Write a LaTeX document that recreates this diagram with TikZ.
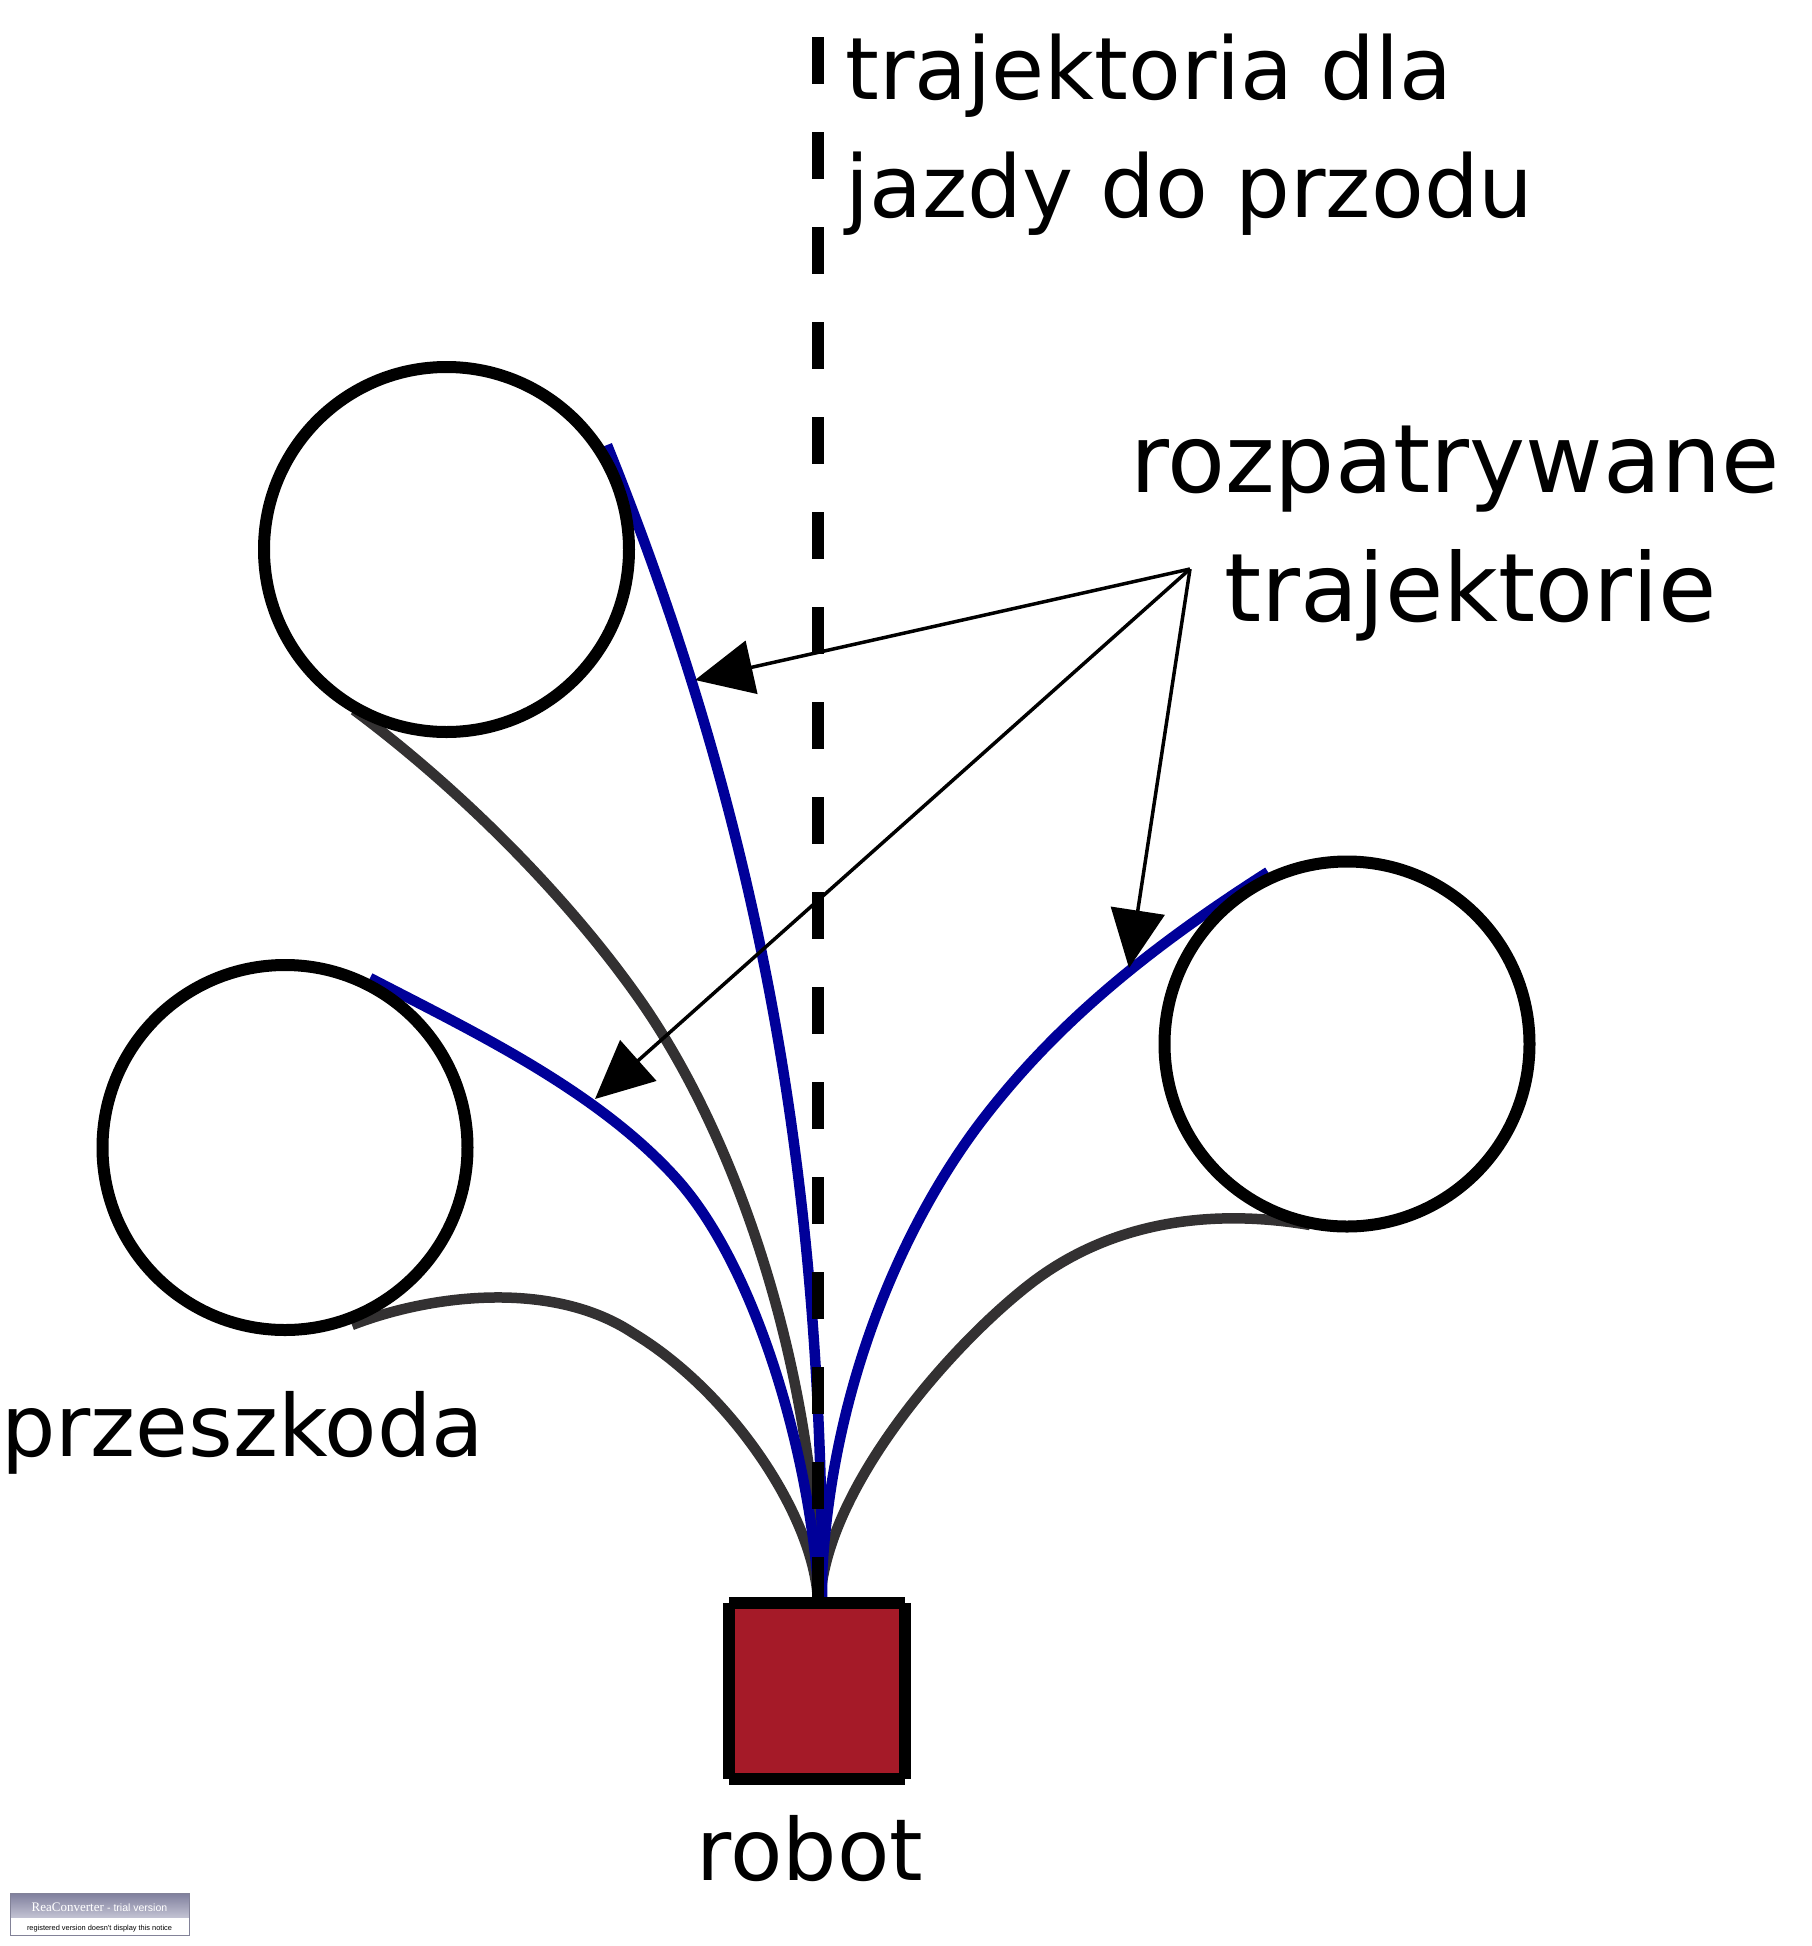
\documentclass[tikz,border=0pt]{standalone}
\usepackage{fontspec}
\setmainfont{DejaVu Sans}
\newfontfamily\wmserif{Liberation Serif}
\newfontfamily\wmsans{Liberation Sans}
\usetikzlibrary{arrows.meta}
\definecolor{trajblue}{RGB}{0,0,153}
\definecolor{trajgray}{RGB}{51,49,50}
\definecolor{robotred}{RGB}{165,26,40}
\definecolor{wmtop}{RGB}{126,126,156}
\definecolor{wmbot}{RGB}{196,196,212}
\definecolor{wmline}{RGB}{130,130,152}
\begin{document}
\begin{tikzpicture}[x=1pt,y=-1pt,
  obst/.style={circle,draw=black,line width=12pt,fill=white,minimum size=365pt,inner sep=0pt},
  forwardline/.style={draw=black,line width=12pt,dash pattern=on 47pt off 48pt},
  bluetraj/.style={draw=trajblue,line width=10.5pt},
  graytraj/.style={draw=trajgray,line width=10.5pt},
  pointer/.style={draw=black,line width=3.5pt,-{Triangle[length=58pt,width=54pt]}},
  robotbox/.style={rectangle,fill=robotred,minimum width=176pt,minimum height=176pt,inner sep=0pt},
  robotedge/.style={draw=black,line width=12pt,line cap=butt},
  lblmid/.style={font=\fontsize{86.3}{100}\selectfont,inner sep=0pt,anchor=base west},
  lblbig/.style={font=\fontsize{94.8}{110}\selectfont,inner sep=0pt,anchor=base west},
  lblsmall/.style={font=\fontsize{85.7}{100}\selectfont,inner sep=0pt}
]
\useasboundingbox (0,0) rectangle (1812,1946);
\fill[white] (0,0) rectangle (1812,1946);

% robot hub where trajectories meet
\coordinate (g1s) at (354,710);
\coordinate (g1m) at (640,1000);
\coordinate (g2s) at (352,1325);
\coordinate (g2m) at (633,1333);
\coordinate (g3s) at (1310,1225);
\coordinate (g3m) at (1030,1284);
\coordinate (b1s) at (607,445);
\coordinate (b2s) at (370,978);
\coordinate (b2m) at (675,1177);
\coordinate (b3s) at (1268,872);
\coordinate (b3m) at (980,1123);

% grey trajectories
\draw[graytraj] (g1s) .. controls (464,792) and (570,900) .. (g1m)
                      .. controls (745,1150) and (818,1390) .. (818,1603);
\draw[graytraj] (g2s) .. controls (432,1294) and (553,1280) .. (g2m)
                      .. controls (733,1393) and (816,1520) .. (818,1603);
\draw[graytraj] (g3s) .. controls (1210,1208) and (1110,1222) .. (g3m)
                      .. controls (950,1346) and (824,1490) .. (820,1603);

% blue trajectories
\draw[bluetraj] (b1s) .. controls (752,805) and (824,1160) .. (822,1603);
\draw[bluetraj] (b2s) .. controls (470,1030) and (595,1089) .. (b2m)
                      .. controls (760,1270) and (813,1470) .. (819,1603);
\draw[bluetraj] (b3s) .. controls (1138,955) and (1050,1031) .. (b3m)
                      .. controls (900,1229) and (825,1400) .. (821,1603);

% obstacles
\node[obst] (c1) at (446.5,549.5) {};
\node[obst] (c2) at (285,1147.5) {};
\node[obst] (c3) at (1347,1044) {};

% forward trajectory
\coordinate (ftop) at (818,37);
\coordinate (fbot) at (818,1603);
\draw[forwardline] (ftop) -- (fbot);

% robot
\node[robotbox] (robot) at (817,1691) {};
\draw[robotedge] (robot.north west) -- (robot.north east);
\draw[robotedge] (robot.south west) -- (robot.south east);
\draw[robotedge] (robot.north west) -- (robot.south west);
\draw[robotedge] (robot.north east) -- (robot.south east);

% pointers
\coordinate (hub) at (1190,569);
\coordinate (tip1) at (695,680);
\coordinate (tip2) at (595,1099);
\coordinate (tip3) at (1129,968);
\draw[pointer] (hub) -- (tip1);
\draw[pointer] (hub) -- (tip2);
\draw[pointer] (hub) -- (tip3);

% labels
\node[lblmid] (fw1) at (845,99) {trajektoria dla};
\node[lblmid] (fw2) at (845,217) {jazdy do przodu};
\node[lblbig] (rz1) at (1130,492) {rozpatrywane};
\node[lblbig] (rz2) at (1224.5,621) {trajektorie};
\node[lblsmall,anchor=base west] (obstlbl) at (1,1456) {przeszkoda};
\node[lblsmall,anchor=base] (robotlbl) at (810,1880) {robot};

% converter notice
\shade[top color=wmtop,bottom color=wmbot] (10,1893) rectangle (189,1918);
\fill[white] (10,1918) rectangle (189,1935);
\draw[wmline,line width=1pt] (10,1893) rectangle (189,1935);
\node[inner sep=0pt,text=white,anchor=base] (wm1) at (99.5,1911) {\wmserif\fontsize{13}{14}\selectfont ReaConverter \wmsans\fontsize{10.5}{12}\selectfont - trial version};
\node[inner sep=0pt,anchor=base] (wm2) at (99.5,1930) {\wmsans\fontsize{7.4}{8}\selectfont registered version doesn't display this notice};
\end{tikzpicture}
\end{document}
